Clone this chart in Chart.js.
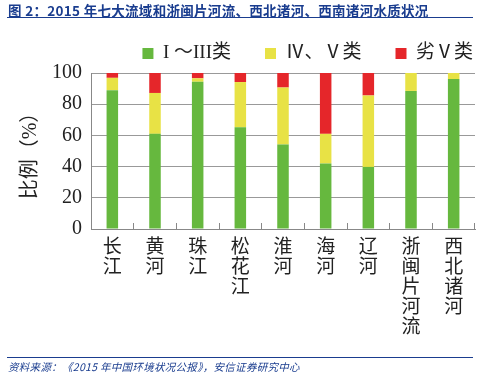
<!DOCTYPE html>
<html>
<head>
<meta charset="utf-8">
<script src="https://cdn.jsdelivr.net/npm/chart.js@4"></script>
<style>
  body { margin: 0; background: #fff; }
  #wrap { position: relative; width: 485px; height: 375px; overflow: hidden; }
  #head { position: absolute; left: 8px; top: 0px; font: bold 13.5px "Noto Sans CJK SC", sans-serif; letter-spacing: 0.3px; color: #1a3d8f; white-space: nowrap; }
  #headLine { position: absolute; left: 7px; top: 17px; width: 466px; height: 1px; background: #1a3d8f; }
  #footLine { position: absolute; left: 7px; top: 357px; width: 466px; height: 1px; background: #1a3d8f; }
  #foot { position: absolute; left: 8px; top: 359px; font: italic 10.5px "Noto Sans CJK SC", sans-serif; letter-spacing: 0.3px; color: #1a3d8f; white-space: nowrap; }
  canvas { position: absolute; left: 0; top: 0; }
</style>
</head>
<body>
<div id="wrap">
  <canvas id="waterChart" width="485" height="375"></canvas>
  <div id="head">图 2：2015 年七大流域和浙闽片河流、西北诸河、西南诸河水质状况</div>
  <div id="headLine"></div>
  <div id="footLine"></div>
  <div id="foot">资料来源：《2015 年中国环境状况公报》，安信证券研究中心</div>
</div>
<script>
// --- Data ---
const basins = ["长江", "黄河", "珠江", "松花江", "淮河", "海河", "辽河", "浙闽片河流", "西北诸河"];
const class1to3 = [89.0, 61.0, 94.4, 65.2, 54.2, 42.0, 39.8, 88.5, 96.1];
const class4to5 = [7.9, 26.2, 2.2, 29.0, 36.5, 19.0, 45.8, 11.5, 3.9];
const worseThan5 = [3.1, 12.8, 3.4, 5.8, 9.3, 39.0, 14.4, 0, 0];
const yTicks = [0, 20, 40, 60, 80, 100];

// --- Chart ---
const serif = '"Liberation Serif", "Noto Sans CJK SC", serif';
const legendPad = 34;
let ctx = document.getElementById("waterChart").getContext("2d");

// legend with align:'end' keeps a trailing padding; push it flush right
const legendShift = {
    id: 'legendShift',
    afterLayout(chart){
        chart.legend.left += legendPad - 2;
        chart.legend.right += legendPad - 2;
    }
};

new Chart(ctx, {
    type: 'bar',
    data: {
        // vertical labels: one character per line
        labels: basins.map(b => b.split('')),
        datasets: [
            {label: "I ～III类", data: class1to3, backgroundColor: "#66b83e"},
            {label: "Ⅳ、Ⅴ类", data: class4to5, backgroundColor: "#e8e245"},
            {label: "劣Ⅴ类", data: worseThan5, backgroundColor: "#e5262a"}
        ]
    },
    options: {
        responsive: false,
        animation: false,
        layout: { padding: { left: 11, right: 10, top: 10, bottom: 22 } },
        datasets: { bar: { barPercentage: 0.27, categoryPercentage: 1 } },
        plugins: {
            legend: {
                position: 'top',
                align: 'end',
                labels: {
                    boxWidth: 11, boxHeight: 11, padding: legendPad,
                    color: '#222', font: { family: serif, size: 19 }
                }
            },
            tooltip: { enabled: false }
        },
        scales: {
            x: {
                stacked: true,
                // the axis runs a little past the last category, as in the original
                afterDataLimits: s => { s.max = basins.length - 1 + 0.24; },
                border: { color: '#888' },
                grid: { offset: true, drawOnChartArea: false, tickLength: -6, color: '#888' },
                ticks: { color: '#222', maxRotation: 0, autoSkip: false, padding: 15, font: { family: serif, size: 19, lineHeight: '20px' } }
            },
            y: {
                stacked: true, min: 0, max: 100,
                afterBuildTicks: axis => { axis.ticks = yTicks.map(v => ({value: v})); },
                border: { color: '#888' },
                grid: { color: '#999', drawTicks: false },
                ticks: { color: '#222', autoSkip: false, padding: 9, font: { family: serif, size: 20 } },
                title: { display: true, text: "比例（%）", color: '#222', font: { family: serif, size: 20 }, padding: { top: 8, bottom: 0 } }
            }
        }
    },
    plugins: [legendShift]
});
</script>
</body>
</html>
